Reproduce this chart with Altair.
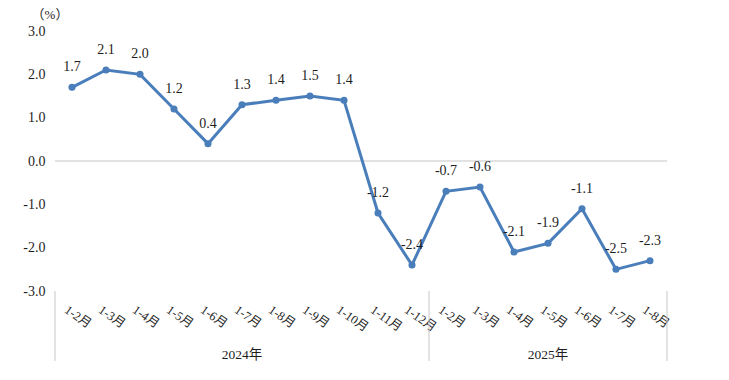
import json
import altair as alt
import pandas as pd

years = ["2024年"] * 11 + ["2025年"] * 7
period_labels = ["1-2月", "1-3月", "1-4月", "1-5月", "1-6月", "1-7月", "1-8月", "1-9月",
                 "1-10月", "1-11月", "1-12月",
                 "1-2月", "1-3月", "1-4月", "1-5月", "1-6月", "1-7月", "1-8月"]
values = [1.7, 2.1, 2.0, 1.2, 0.4, 1.3, 1.4, 1.5, 1.4, -1.2, -2.4,
          -0.7, -0.6, -2.1, -1.9, -1.1, -2.5, -2.3]
y_ticks = [-3.0, -2.0, -1.0, 0.0, 1.0, 2.0, 3.0]

n = len(values)
df = pd.DataFrame({"idx": list(range(n)), "label": period_labels, "value": values,
                   "year": years, "txt": [f"{v:.1f}" for v in values]})

groups = []
for y in dict.fromkeys(years):
    ids = [i for i, v in enumerate(years) if v == y]
    groups.append({"year": y, "mid": (ids[0] + ids[-1]) / 2,
                   "start": ids[0] - 0.5, "end": ids[-1] + 0.5})
gdf = pd.DataFrame(groups)
sep = pd.DataFrame({"pos": sorted(set(gdf["start"]).union(set(gdf["end"])))})

FONT = "Liberation Serif, Noto Sans CJK SC"
BLUE = "#4a7ebb"
TXT = "#1e1e1e"
W, H = 612, 260

xscale = alt.Scale(domain=[-0.5, n - 0.5], nice=False, zero=False)
yscale = alt.Scale(domain=[-3, 3], nice=False)

label_expr = json.dumps(period_labels, ensure_ascii=False) + "[datum.value]"

AX_X = alt.Axis(values=list(range(n)), labelExpr=label_expr, title=None,
                domain=False, ticks=False, grid=False, labelAngle=35,
                labelAlign="left", labelBaseline="top", labelPadding=12,
                labelOffset=-3,
                labelFont=FONT, labelFontSize=12.5, labelColor=TXT,
                labelOverlap=False, labelBound=False, labelFlush=False)
AX_Y = alt.Axis(values=y_ticks,
                labelExpr="replace(format(datum.value, '.1f'), '\u2212', '-')",
                title=None, domain=False, labelOverlap=False,
                ticks=False, grid=False, labelPadding=10, labelFont=FONT,
                labelFontSize=14, labelColor=TXT)

X = alt.X("idx:Q", scale=xscale, axis=AX_X)
Y = alt.Y("value:Q", scale=yscale, axis=AX_Y)

base = alt.Chart(df)

line = base.mark_line(color=BLUE, strokeWidth=3).encode(x=X, y=Y)
points = base.mark_point(filled=True, color=BLUE, size=50, opacity=1).encode(x=X, y=Y)
labels = base.mark_text(font=FONT, fontSize=14, color=TXT, dy=-20).encode(
    x=X, y=Y, text="txt:N")

zero = alt.Chart(pd.DataFrame({"z": [0.0]})).mark_rule(color="#d9d9d9", strokeWidth=1.5).encode(
    y=alt.Y("z:Q", scale=yscale, axis=AX_Y), x=alt.value(0), x2=alt.value(W))

seps = alt.Chart(sep).mark_rule(color="#c8c8c8", strokeWidth=1).encode(
    x=alt.X("pos:Q", scale=xscale, axis=AX_X), y=alt.value(H), y2=alt.value(H + 76))

ylab = alt.Chart(gdf).mark_text(font=FONT, fontSize=13.5, color=TXT).encode(
    x=alt.X("mid:Q", scale=xscale, axis=AX_X), y=alt.value(H + 64), text="year:N")

unit = alt.Chart(pd.DataFrame({"t": ["（%）"]})).mark_text(
    font=FONT, fontSize=13, color=TXT).encode(
    x=alt.value(-5), y=alt.value(-16), text="t:N")

chart = alt.layer(zero, seps, line, points, labels, ylab, unit).properties(
    width=W, height=H,
    background="white",
    autosize=alt.AutoSizeParams(type="none"),
    padding={"left": 47, "top": 23, "right": 40, "bottom": 70},
).configure_view(strokeWidth=0)

chart.save("out.html", embed_options={"renderer": "svg", "actions": False})
